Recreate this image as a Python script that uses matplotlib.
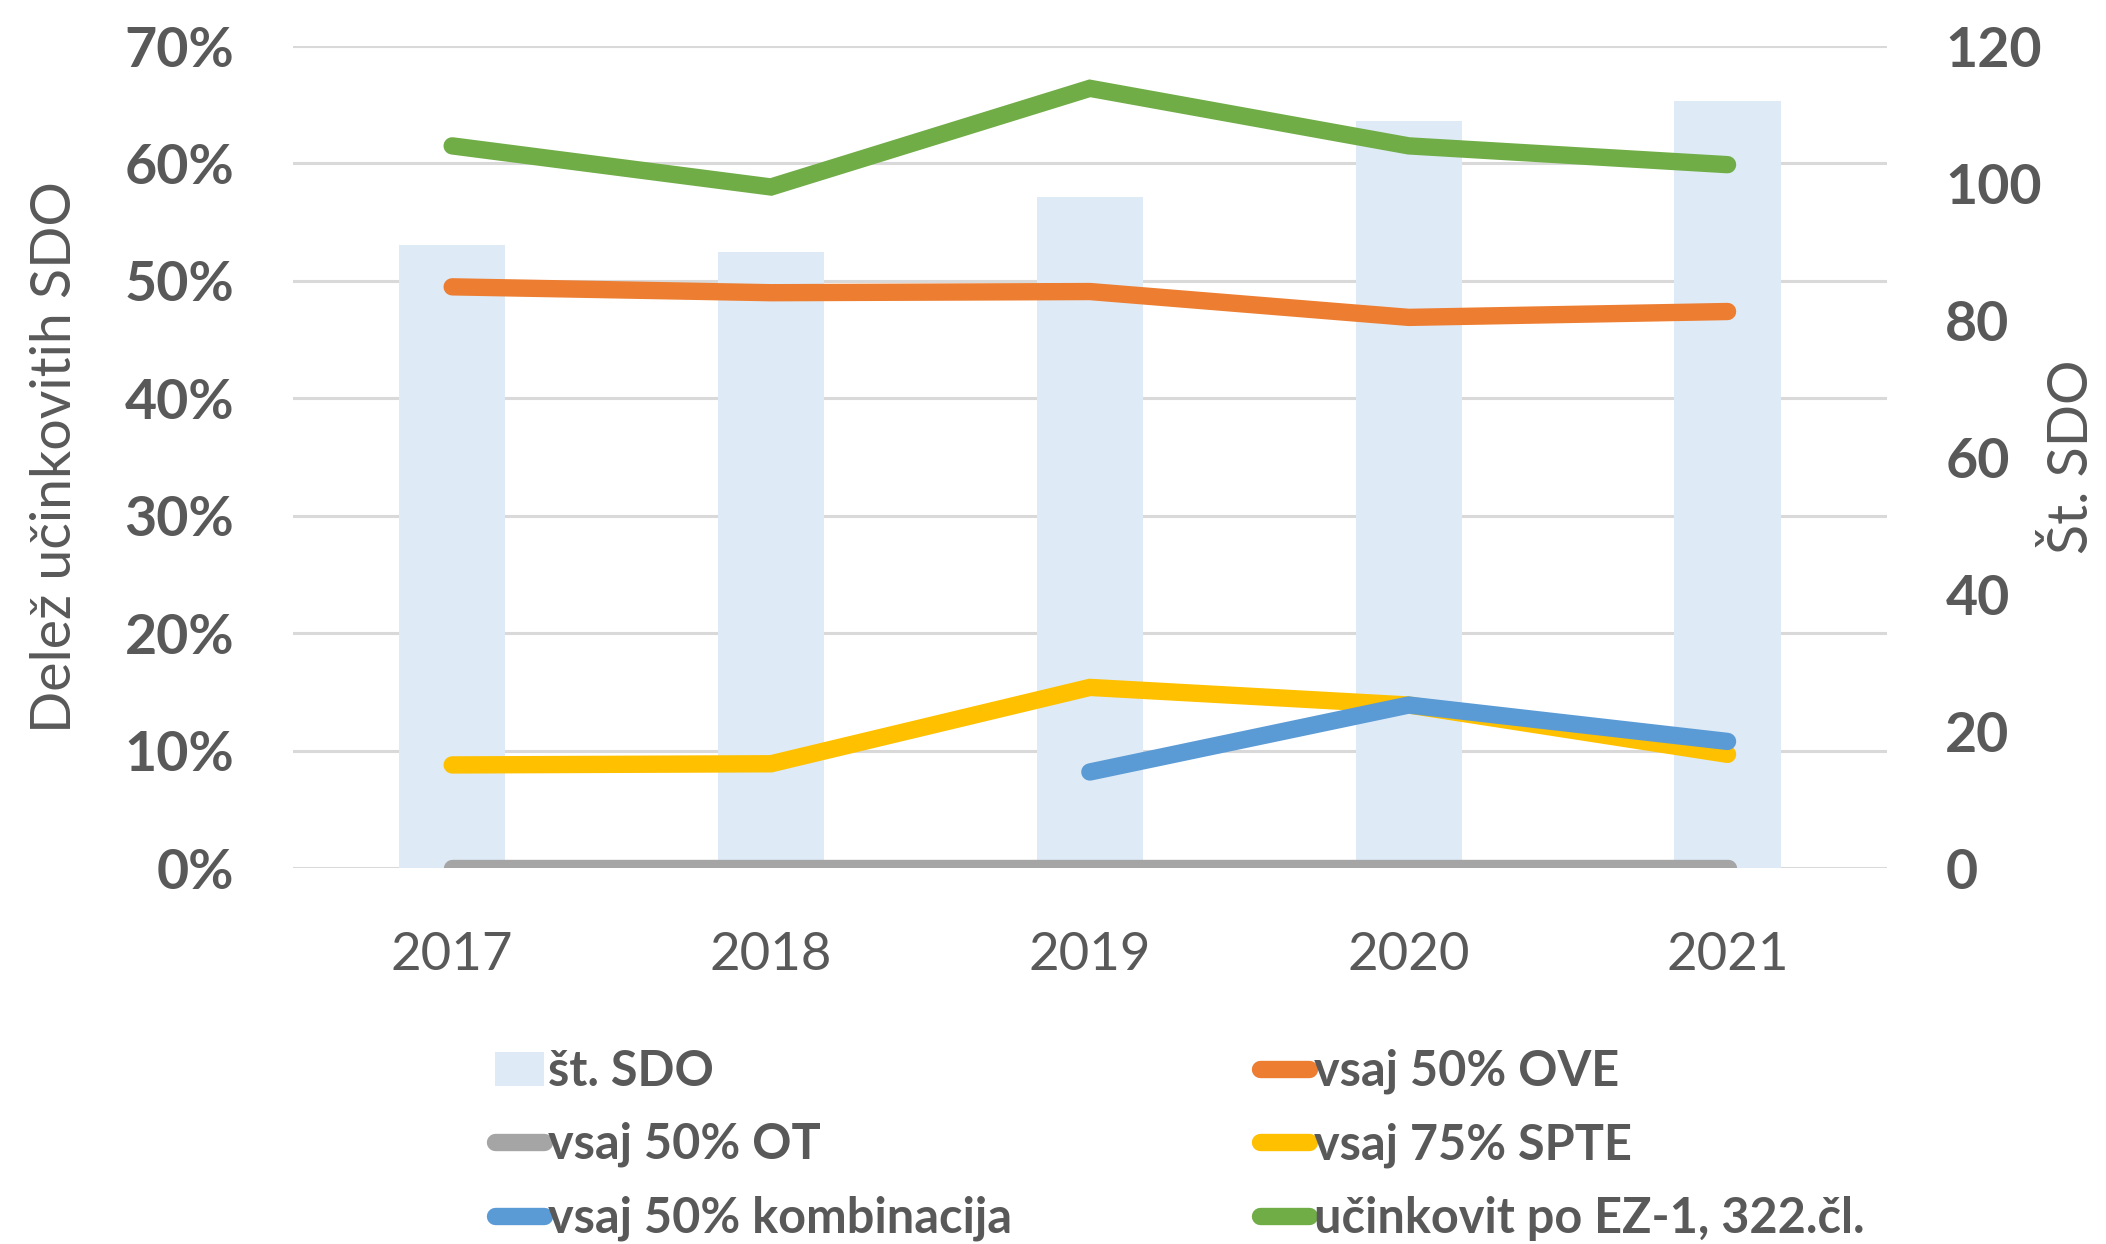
import matplotlib
matplotlib.use('Agg')
import matplotlib.pyplot as plt
from matplotlib.lines import Line2D
from matplotlib.patches import Patch

plt.rcParams['font.family'] = ['Lato', 'DejaVu Sans']

years = ["2017", "2018", "2019", "2020", "2021"]
st_sdo = [91, 90, 98, 109, 112]
ove = [49.5, 49.0, 49.1, 46.9, 47.4]
ot = [0, 0, 0, 0, 0]
spte = [8.8, 8.9, 15.4, 13.9, 9.7]
kombinacija = [None, None, 8.2, 13.9, 10.8]
ez1 = [61.5, 58.0, 66.4, 61.5, 59.9]

TXT = '#595959'
GRID = '#D9D9D9'
LW = 12.5

fig = plt.figure(figsize=(21.06, 12.44), dpi=100)
ax2 = fig.add_axes([0.139, 0.302, 0.757, 0.661])
ax = ax2.twinx()
ax.set_zorder(ax2.get_zorder() + 1)
ax.patch.set_visible(False)

x = list(range(len(years)))

# bars (right axis)
ax2.bar(x, st_sdo, width=0.333, color='#DEEBF7', zorder=2)
ax2.set_ylim(0, 120)
ax2.set_yticks(range(0, 121, 20))
ax2.yaxis.tick_right()
ax2.yaxis.set_label_position('right')

# lines (left axis)
ax.yaxis.tick_left()
ax.yaxis.set_label_position('left')
ax.set_ylim(0, 70)
pct_ticks = list(range(0, 71, 10))
ax.set_yticks(pct_ticks)
ax.set_yticklabels([f"{t}%" for t in pct_ticks])

# gridlines behind the bars, at the left-axis ticks
for t in pct_ticks:
    ax2.plot([-0.5, 4.5], [t, t], color=GRID, lw=2.2, zorder=1,
             transform=ax.transData)

series = [
    (ove, '#ED7D31', 'vsaj 50% OVE'),
    (ot, '#A5A5A5', 'vsaj 50% OT'),
    (spte, '#FFC000', 'vsaj 75% SPTE'),
    (kombinacija, '#5B9BD5', 'vsaj 50% kombinacija'),
    (ez1, '#70AD47', 'učinkovit po EZ-1, 322.čl.'),
]
for vals, col, lab in series:
    xs = [i for i, v in zip(x, vals) if v is not None]
    ys = [v for v in vals if v is not None]
    ax.plot(xs, ys, color=col, lw=LW, solid_capstyle='round',
            solid_joinstyle='miter')

ax2.set_xlim(-0.5, 4.5)
ax2.set_xticks(x)
ax2.set_xticklabels(years)

for a in (ax, ax2):
    for s in a.spines.values():
        s.set_visible(False)
    a.tick_params(length=0, colors=TXT)

ax2.tick_params(axis='x', labelsize=38, pad=46)
ax2.tick_params(axis='y', labelsize=40, pad=42)
ax.tick_params(axis='y', labelsize=40, pad=42)
for lbl in ax.get_yticklabels() + ax2.get_yticklabels():
    lbl.set_fontweight('bold')

ax.set_ylabel("Delež učinkovitih SDO", fontsize=40, color=TXT)
ax.yaxis.set_label_coords(-0.133, 0.5)
ax2.set_ylabel("Št. SDO", fontsize=40, color=TXT, rotation=90)
ax2.yaxis.set_label_coords(1.1, 0.5)

# legend
def line_h(col):
    return Line2D([], [], color=col, lw=LW, solid_capstyle='round')

handles = [
    Patch(facecolor='#DEEBF7', edgecolor='none'),
    line_h('#A5A5A5'),
    line_h('#5B9BD5'),
    line_h('#ED7D31'),
    line_h('#FFC000'),
    line_h('#70AD47'),
]
labels = ["št. SDO", "vsaj 50% OT", "vsaj 50% kombinacija",
          "vsaj 50% OVE", "vsaj 75% SPTE", "učinkovit po EZ-1, 322.čl."]
leg = fig.legend(handles, labels, ncol=2, loc='upper left',
                 bbox_to_anchor=(0.235, 0.157), frameon=False,
                 prop={'size': 35, 'weight': 'bold'}, handlelength=1.0,
                 handletextpad=0.1, columnspacing=5.1, labelspacing=0.58,
                 borderpad=0, borderaxespad=0)
for t in leg.get_texts():
    t.set_color(TXT)

fig.savefig("out.png", dpi=100)
